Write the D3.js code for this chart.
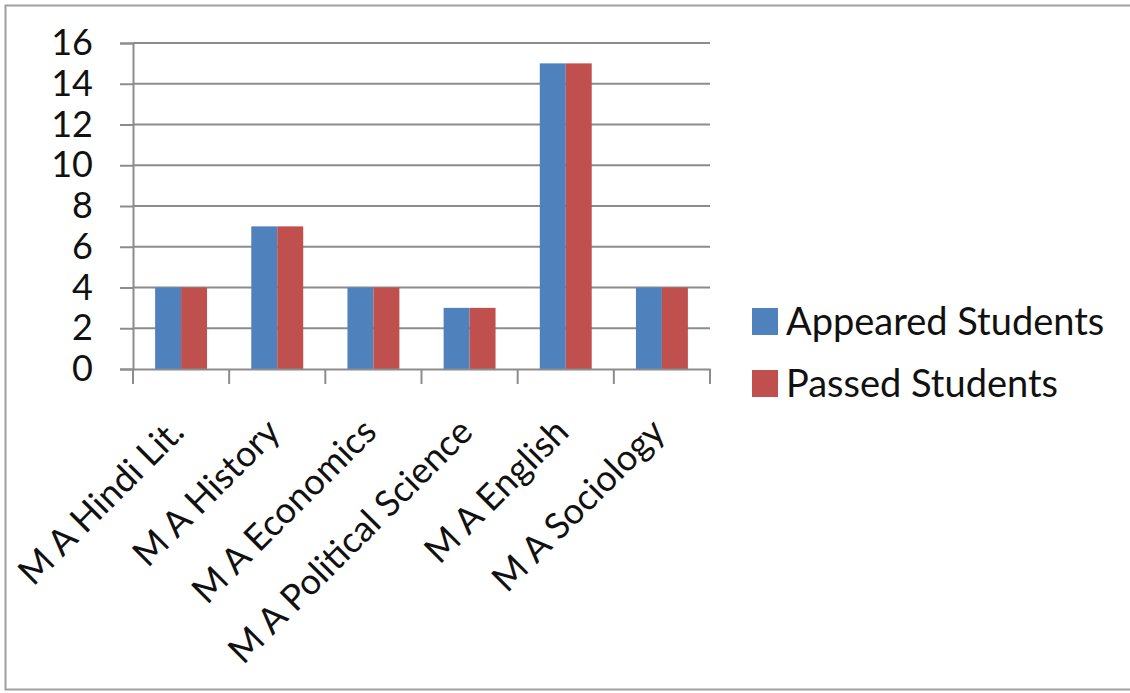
<!DOCTYPE html>
<html>
<head>
<meta charset="utf-8">
<script src="https://cdn.jsdelivr.net/npm/d3@7"></script>
<style>
  html, body { margin: 0; padding: 0; background: #fff; }
  svg { display: block; }
  text { font-family: Lato, "Open Sans", sans-serif; fill: #111; }
</style>
</head>
<body>
<svg id="chart" width="1130" height="693"></svg>
<script>
const categories = ["M A Hindi Lit.", "M A History", "M A Economics", "M A Political Science", "M A English", "M A Sociology"];
const seriesNames = ["Appeared Students", "Passed Students"];
const appeared = [4, 7, 4, 3, 15, 4];
const passed = [4, 7, 4, 3, 15, 4];
const yTicks = [0, 2, 4, 6, 8, 10, 12, 14, 16];
const colors = ["#4F81BD", "#C0504D"];

const svg = d3.select("#chart");

// outer border (top & left visible)
svg.append("rect")
  .attr("x", 5.5).attr("y", 5.5)
  .attr("width", 1150).attr("height", 684)
  .attr("fill", "none").attr("stroke", "#a0a0a0").attr("stroke-width", 2);

const x0 = d3.scaleBand().domain(categories).range([133, 710]).paddingInner(0.46).paddingOuter(0.23);
const xOuter = d3.scaleBand().domain(categories).range([133, 710]).padding(0);
const x1 = d3.scaleBand().domain(seriesNames).range([0, x0.bandwidth()]).padding(0);
const y = d3.scaleLinear().domain([0, 16]).range([369, 43]);

// gridlines + y axis
const yAxis = d3.axisLeft(y).tickValues(yTicks).tickSize(13).tickPadding(27).tickFormat(d3.format("d"));
const gy = svg.append("g").attr("transform", "translate(133,0)").call(yAxis);
gy.select(".domain").attr("stroke", "#8c8c8c").attr("stroke-width", 2);
gy.selectAll(".tick line").attr("stroke", "#8c8c8c").attr("stroke-width", 2);
gy.selectAll(".tick text").style("font-size", "36px").attr("fill", "#111");

svg.append("g").selectAll("line").data(yTicks.filter(d => d > 0)).join("line")
  .attr("x1", 133).attr("x2", 710)
  .attr("y1", d => y(d)).attr("y2", d => y(d))
  .attr("stroke", "#8c8c8c").attr("stroke-width", 2);

// bars
const groups = svg.append("g").selectAll("g").data(categories).join("g")
  .attr("transform", d => `translate(${x0(d)},0)`);
groups.selectAll("rect").data((d, i) => [
    {s: seriesNames[0], v: appeared[i]},
    {s: seriesNames[1], v: passed[i]}
  ]).join("rect")
  .attr("x", d => x1(d.s))
  .attr("width", x1.bandwidth())
  .attr("y", d => y(d.v))
  .attr("height", d => y(0) - y(d.v))
  .attr("fill", (d, i) => colors[i]);

// x axis
const xAxis = d3.axisBottom(xOuter).tickSize(0).tickFormat("");
const gx = svg.append("g").attr("transform", `translate(0,${y(0)})`).call(xAxis);
gx.select(".domain").attr("stroke", "#8c8c8c").attr("stroke-width", 2);
const tickPos = categories.map(c => xOuter(c)).concat([710]);
svg.append("g").selectAll("line").data(tickPos).join("line")
  .attr("x1", d => d).attr("x2", d => d)
  .attr("y1", y(0)).attr("y2", y(0) + 15)
  .attr("stroke", "#8c8c8c").attr("stroke-width", 2);

// x labels
svg.append("g").selectAll("text").data(categories).join("text")
  .attr("transform", d => `translate(${xOuter(d) + xOuter.bandwidth() / 2 + 5},${y(0) + 65}) rotate(-45)`)
  .attr("text-anchor", "end")
  .style("font-size", "36px")
  .text(d => d);

// legend
const legend = svg.append("g").selectAll("g").data(seriesNames).join("g")
  .attr("transform", (d, i) => `translate(752,${308 + i * 62})`);
legend.append("rect").attr("width", 26).attr("height", 27).attr("fill", (d, i) => colors[i]);
legend.append("text").attr("x", 34).attr("y", 14).attr("dy", "0.35em")
  .style("font-size", "38px").text(d => d);
</script>
</body>
</html>
